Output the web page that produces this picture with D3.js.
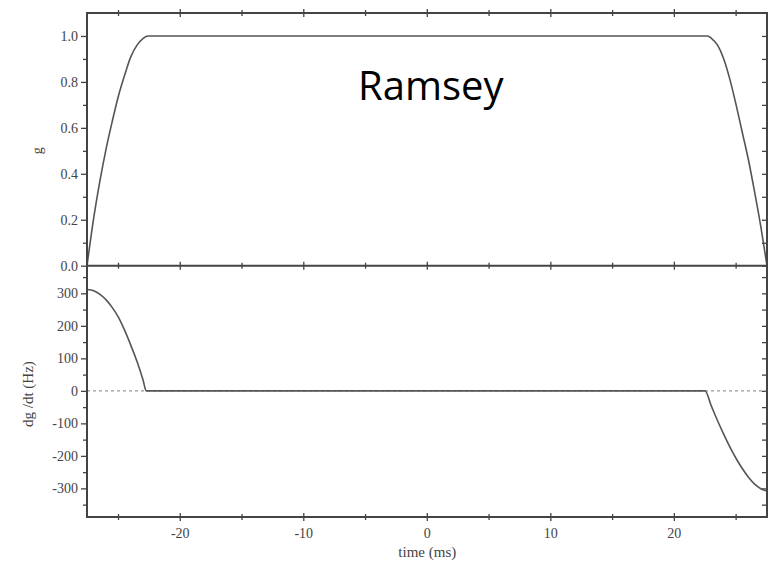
<!DOCTYPE html>
<html>
<head>
<meta charset="utf-8">
<script src="https://cdn.jsdelivr.net/npm/d3@7"></script>
<style>
  body { margin: 0; background: #fff; }
  svg { display: block; }
  .tick text { font-family: 'Liberation Serif', serif; font-size: 14px; fill: #444; }
</style>
</head>
<body>
<div id="chart"></div>
<script>
// g(t)
const timeG = [-27.55, -27.0, -26.5, -26.0, -25.5, -25.0, -24.5, -24.0, -23.5, -23.0, -22.6,
  22.7, 23.0, 23.5, 24.0, 24.5, 25.0, 25.5, 26.0, 26.5, 27.0, 27.5]
const gValues = [0, 0.21, 0.37, 0.51, 0.63, 0.74, 0.83, 0.91, 0.96, 0.99, 1,
  1, 0.99, 0.96, 0.9, 0.81, 0.7, 0.58, 0.46, 0.32, 0.17, 0]

// dg/dt
const timeD = [-27.55, -27.0, -26.5, -26.0, -25.5, -25.0, -24.5, -24.0, -23.5, -23.0, -22.76,
  22.48, 23.0, 23.5, 24.0, 24.5, 25.0, 25.5, 26.0, 26.5, 27.0, 27.5]
const dValues = [312, 308, 297, 280, 256, 226, 186, 140, 90, 32, 0,
  0, -47, -92, -134, -173, -208, -239, -266, -287, -301, -308]

const xTicks = [-20, -10, 0, 10, 20]
const xMinorTicks = [-25, -15, -5, 5, 15, 25]
const gTicks = [0, 0.2, 0.4, 0.6, 0.8, 1.0]
const gMinorTicks = [0.1, 0.3, 0.5, 0.7, 0.9]
const dTicks = [-300, -200, -100, 0, 100, 200, 300]
const dMinorTicks = [-350, -250, -150, -50, 50, 150, 250, 350]

const W = 769
const H = 563
const margin = { top: 13, right: 2, bottom: 46, left: 87 }
const split = 265.7
const axisColor = '#444'
const lineColor = '#555'
const serif = "'Liberation Serif', serif"

const svg = d3.select('#chart').append('svg').attr('width', W).attr('height', H)

const x = d3.scaleLinear().domain([-27.55, 27.5]).range([margin.left, W - margin.right])
const yG = d3.scaleLinear().domain([0, 1.1]).range([split, margin.top])
const yD = d3.scaleLinear().domain([-388, 385]).range([H - margin.bottom, split])

const styleAxis = (g) => {
  g.select('.domain').remove()
  g.selectAll('.tick line').attr('stroke', axisColor).attr('stroke-width', 1.3)
}

// vertical axes
const drawYAxes = (y, major, minor, fmt) => {
  svg.append('g')
    .attr('transform', `translate(${margin.left},0)`)
    .call(d3.axisLeft(y).tickValues(major).tickSize(6).tickPadding(3).tickFormat(fmt))
    .call(styleAxis)
  svg.append('g')
    .attr('transform', `translate(${margin.left},0)`)
    .call(d3.axisLeft(y).tickValues(minor).tickSize(4).tickFormat(''))
    .call(styleAxis)
  svg.append('g')
    .attr('transform', `translate(${W - margin.right},0)`)
    .call(d3.axisLeft(y).tickValues(major.concat(minor)).tickSize(-4).tickFormat(''))
    .call((g) => { styleAxis(g); g.selectAll('.tick line').attr('x2', -5) })
}
drawYAxes(yG, gTicks, gMinorTicks, (d) => d.toFixed(1))
drawYAxes(yD, dTicks, dMinorTicks, (d) => String(d))

// horizontal tick marks crossing the lines
const drawXTicks = (yPos, labels) => {
  const all = xTicks.concat(xMinorTicks)
  svg.append('g').selectAll('line')
    .data(all)
    .join('line')
    .attr('x1', (d) => x(d))
    .attr('x2', (d) => x(d))
    .attr('y1', (d) => yPos - (xTicks.includes(d) ? 4 : 3))
    .attr('y2', (d) => yPos + (xTicks.includes(d) ? 4 : 3))
    .attr('stroke', axisColor)
    .attr('stroke-width', 1.3)
  if (labels) {
    svg.append('g').selectAll('text')
      .data(xTicks)
      .join('text')
      .attr('x', (d) => x(d))
      .attr('y', yPos + 21)
      .attr('text-anchor', 'middle')
      .style('font-family', serif)
      .style('font-size', '14px')
      .attr('fill', '#444')
      .text((d) => String(d))
  }
}
drawXTicks(margin.top, false)
drawXTicks(split, false)
drawXTicks(H - margin.bottom, true)

// zero reference line
svg.append('line')
  .attr('x1', x(-27.55)).attr('x2', x(27.5))
  .attr('y1', yD(0)).attr('y2', yD(0))
  .attr('stroke', '#999')
  .attr('stroke-width', 1.3)
  .attr('stroke-dasharray', '3,3')

const line = (xs, ys, y) => d3.line()
  .x((d, i) => x(xs[i]))
  .y((d) => y(d))
  .curve(d3.curveMonotoneX)(ys)

svg.append('path')
  .attr('d', line(timeG, gValues, yG))
  .attr('fill', 'none')
  .attr('stroke', lineColor)
  .attr('stroke-width', 1.6)

svg.append('path')
  .attr('d', line(timeD, dValues, yD))
  .attr('fill', 'none')
  .attr('stroke', lineColor)
  .attr('stroke-width', 1.6)

// frames
svg.append('rect')
  .attr('x', margin.left).attr('y', margin.top)
  .attr('width', W - margin.right - margin.left)
  .attr('height', H - margin.bottom - margin.top)
  .attr('fill', 'none')
  .attr('stroke', axisColor)
  .attr('stroke-width', 2)
svg.append('line')
  .attr('x1', margin.left).attr('x2', W - margin.right)
  .attr('y1', split).attr('y2', split)
  .attr('stroke', axisColor)
  .attr('stroke-width', 2)

// axis labels
svg.append('text')
  .attr('transform', `translate(42,${yG(0.5)}) rotate(-90)`)
  .attr('text-anchor', 'middle')
  .style('font-family', serif)
  .style('font-size', '14px')
  .attr('fill', '#444')
  .text('g')

svg.append('text')
  .attr('transform', `translate(33,${yD(-10)}) rotate(-90)`)
  .attr('text-anchor', 'middle')
  .style('font-family', serif)
  .style('font-size', '15px')
  .attr('fill', '#444')
  .text('dg /dt (Hz)')

svg.append('text')
  .attr('x', x(0))
  .attr('y', H - 6)
  .attr('text-anchor', 'middle')
  .style('font-family', serif)
  .style('font-size', '15px')
  .attr('fill', '#444')
  .text('time (ms)')

svg.append('text')
  .attr('x', 358)
  .attr('y', 100)
  .style('font-family', "'Open Sans', sans-serif")
  .style('font-size', '40px')
  .attr('fill', '#000')
  .text('Ramsey')
</script>
</body>
</html>
